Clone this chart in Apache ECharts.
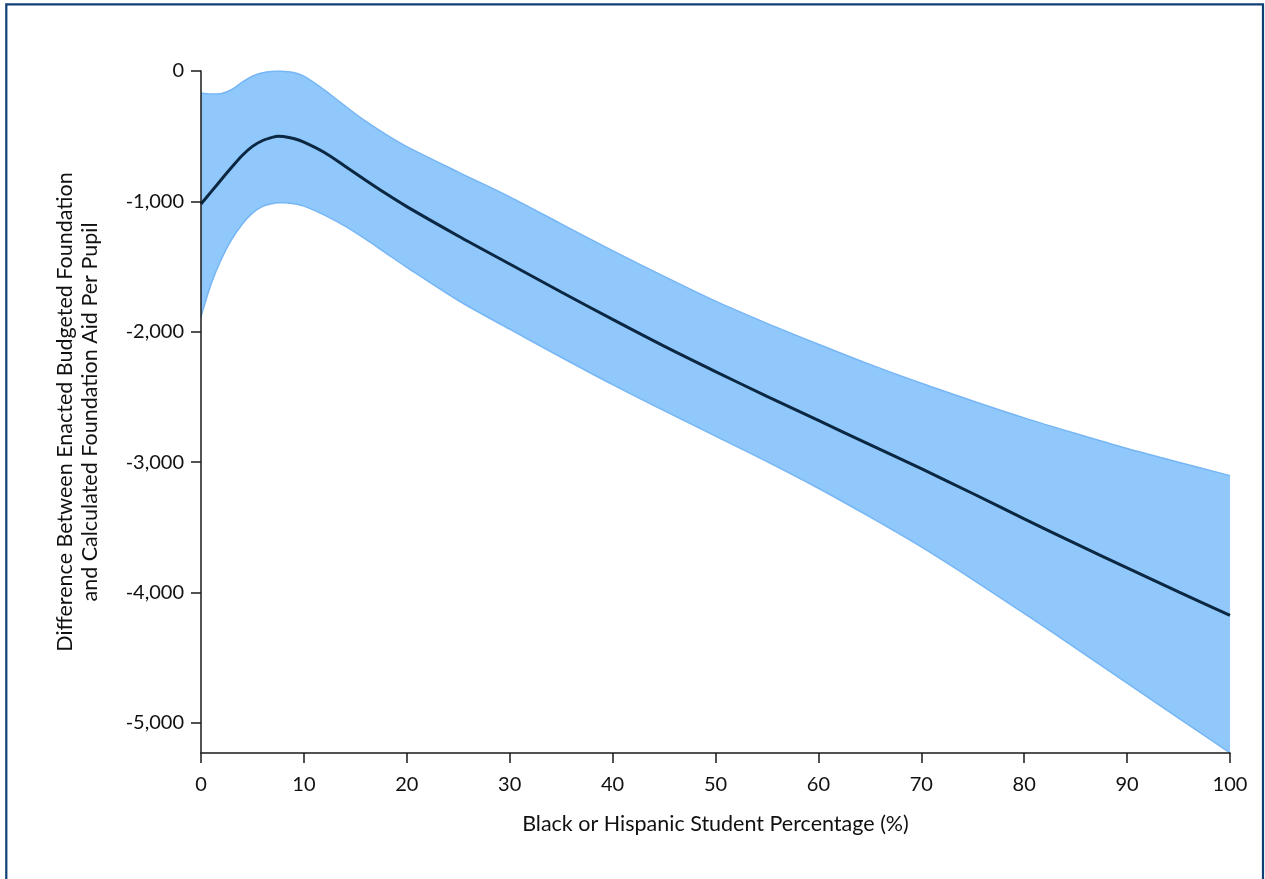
<!DOCTYPE html>
<html>
<head>
<meta charset="utf-8">
<script src="https://cdn.jsdelivr.net/npm/echarts@6/dist/echarts.min.js"></script>
<style>
  html, body { margin: 0; padding: 0; background: #ffffff; }
  #chart { width: 1265px; height: 879px; }
</style>
</head>
<body>
<div id="chart"></div>
<script>
// Share of Black or Hispanic students (%)
const xValues = [0, 1, 2, 3, 4, 5, 6, 7, 7.5, 8, 9, 10, 12, 14, 16, 18, 20, 25, 30, 35, 40, 45, 50, 55, 60, 65, 70, 75, 80, 85, 90, 95, 100];

// Fitted difference per pupil ($)
const fitValues = [-1020, -925, -830, -737, -648, -578, -533, -507, -500, -502, -518, -545, -625, -730, -838, -942, -1040, -1265, -1480, -1695, -1905, -2110, -2305, -2495, -2680, -2865, -3050, -3240, -3435, -3625, -3810, -3995, -4175];

// Confidence band, upper and lower bounds ($)
const upperValues = [-170, -176, -172, -142, -86, -40, -14, -2, 0, -2, -12, -40, -146, -268, -385, -488, -580, -775, -965, -1172, -1378, -1575, -1765, -1935, -2095, -2250, -2395, -2530, -2660, -2780, -2895, -3000, -3103];
const lowerValues = [-1883, -1630, -1440, -1290, -1175, -1090, -1038, -1016, -1011, -1010, -1018, -1036, -1105, -1190, -1290, -1398, -1506, -1760, -1980, -2195, -2405, -2605, -2800, -2995, -3200, -3420, -3650, -3900, -4160, -4425, -4695, -4962, -5230];

// Tick positions
const xTicks = [0, 10, 20, 30, 40, 50, 60, 70, 80, 90, 100];
const yTicks = [0, -1000, -2000, -3000, -4000, -5000];

const xTitle = 'Black or Hispanic Student Percentage (%)';
const yTitle = 'Difference Between Enacted Budgeted Foundation\nand Calculated Foundation Aid Per Pupil';

const toPairs = (ys) => xValues.map((x, i) => [x, ys[i]]);

const FONT = 'Lato';
const TEXT_COLOR = '#111111';
const AXIS_COLOR = '#1a1a1a';
const BAND_FILL = '#90c8fc';
const BAND_EDGE = '#76b6f5';
const SMOOTH = 0.3;

const chart = echarts.init(document.getElementById('chart'), null, { renderer: 'canvas' });

chart.setOption({
  animation: false,
  backgroundColor: '#ffffff',
  grid: { left: 201, right: 35, top: 71, bottom: 126, containLabel: false },
  xAxis: {
    type: 'value',
    min: 0,
    max: 100,
    interval: 10,
    z: 10,
    name: xTitle,
    nameLocation: 'middle',
    nameGap: 60,
    nameTextStyle: { fontFamily: FONT, fontSize: 21.5, color: TEXT_COLOR },
    axisLine: { show: true, onZero: false, lineStyle: { color: AXIS_COLOR, width: 1.5 } },
    axisTick: { show: true, inside: false, length: 10, customValues: xTicks, lineStyle: { color: AXIS_COLOR, width: 1.5 } },
    axisLabel: { margin: 22, customValues: xTicks, fontFamily: FONT, fontSize: 20, color: TEXT_COLOR },
    splitLine: { show: false }
  },
  yAxis: {
    type: 'value',
    min: -5230,
    max: 0,
    z: 10,
    name: yTitle,
    nameLocation: 'middle',
    nameGap: 98,
    nameRotate: 90,
    nameTextStyle: { fontFamily: FONT, fontSize: 21.5, lineHeight: 25, color: TEXT_COLOR, align: 'center' },
    axisLine: { show: true, onZero: false, lineStyle: { color: AXIS_COLOR, width: 1.5 } },
    axisTick: { show: true, inside: false, length: 10, customValues: yTicks, lineStyle: { color: AXIS_COLOR, width: 1.5 } },
    axisLabel: {
      margin: 17,
      customValues: yTicks,
      fontFamily: FONT,
      fontSize: 20,
      color: TEXT_COLOR,
      formatter: (v) => Number(v).toLocaleString('en-US')
    },
    splitLine: { show: false }
  },
  series: [
    {
      // band: fill from the upper bound down to the axis floor
      name: 'Upper bound',
      type: 'line',
      data: toPairs(upperValues),
      smooth: SMOOTH,
      showSymbol: false,
      z: 2,
      lineStyle: { color: BAND_EDGE, width: 1.5 },
      areaStyle: { color: BAND_FILL, opacity: 1, origin: 'start' }
    },
    {
      // then clear everything below the lower bound
      name: 'Lower bound',
      type: 'line',
      data: toPairs(lowerValues),
      smooth: SMOOTH,
      showSymbol: false,
      z: 2,
      lineStyle: { color: BAND_EDGE, width: 1.5 },
      areaStyle: { color: '#ffffff', opacity: 1, origin: 'start' }
    },
    {
      name: 'Fitted difference',
      type: 'line',
      data: toPairs(fitValues),
      smooth: SMOOTH,
      showSymbol: false,
      z: 3,
      lineStyle: { color: '#0b2742', width: 3 }
    }
  ],
  graphic: [
    {
      type: 'rect',
      silent: true,
      z: 100,
      shape: { x: 6.3, y: 4.3, width: 1256.7, height: 900 },
      style: { fill: 'none', stroke: '#0e3f77', lineWidth: 2.2 }
    }
  ]
});
</script>
</body>
</html>
